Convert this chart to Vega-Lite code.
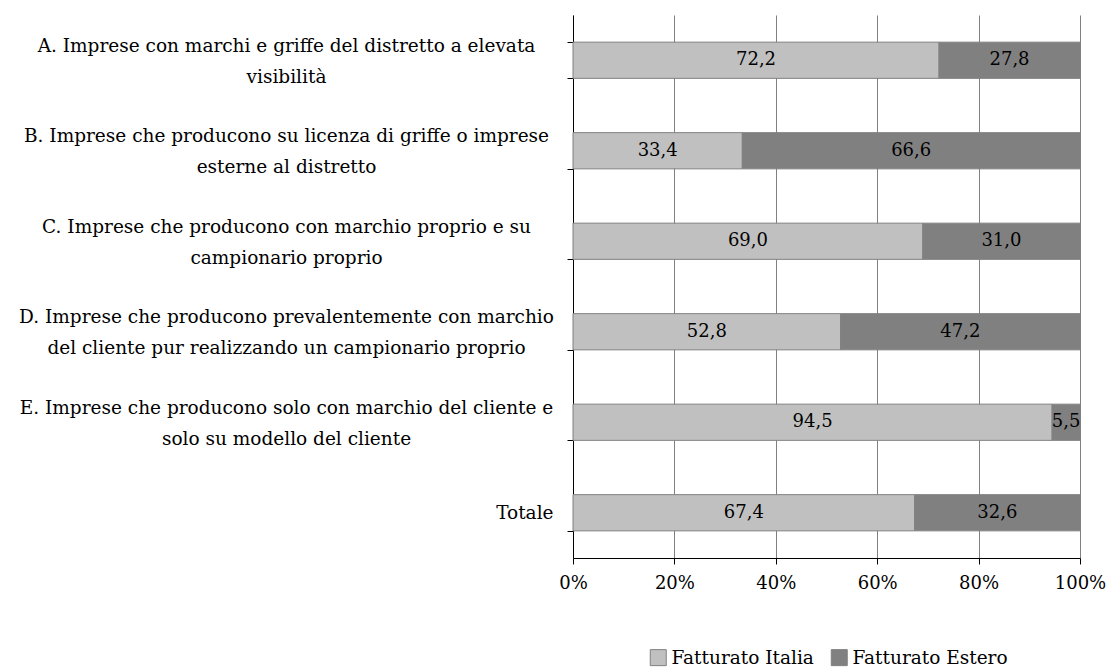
{
  "$schema": "https://vega.github.io/schema/vega-lite/v6.json",
  "autosize": "none",
  "width": 507,
  "height": 543,
  "padding": {"left": 573, "top": 15, "right": 29, "bottom": 111},
  "background": "white",
  "config": {
    "locale": {"number": {"decimal": ",", "thousands": ".", "grouping": [3], "currency": ["€", ""]}},
    "font": "DejaVu Serif",
    "view": {"stroke": null}
  },
  "data": {
    "values": [
      {"categoria": "A. Imprese con marchi e griffe del distretto a elevata\nvisibilità", "voce": "Fatturato Italia", "valore": 72.2},
      {"categoria": "A. Imprese con marchi e griffe del distretto a elevata\nvisibilità", "voce": "Fatturato Estero", "valore": 27.8},
      {"categoria": "B. Imprese che producono su licenza di griffe o imprese\nesterne al distretto", "voce": "Fatturato Italia", "valore": 33.4},
      {"categoria": "B. Imprese che producono su licenza di griffe o imprese\nesterne al distretto", "voce": "Fatturato Estero", "valore": 66.6},
      {"categoria": "C. Imprese che producono con marchio proprio e su\ncampionario proprio", "voce": "Fatturato Italia", "valore": 69.0},
      {"categoria": "C. Imprese che producono con marchio proprio e su\ncampionario proprio", "voce": "Fatturato Estero", "valore": 31.0},
      {"categoria": "D. Imprese che producono prevalentemente con marchio\ndel cliente pur realizzando un campionario proprio", "voce": "Fatturato Italia", "valore": 52.8},
      {"categoria": "D. Imprese che producono prevalentemente con marchio\ndel cliente pur realizzando un campionario proprio", "voce": "Fatturato Estero", "valore": 47.2},
      {"categoria": "E. Imprese che producono solo con marchio del cliente e\nsolo su modello del cliente", "voce": "Fatturato Italia", "valore": 94.5},
      {"categoria": "E. Imprese che producono solo con marchio del cliente e\nsolo su modello del cliente", "voce": "Fatturato Estero", "valore": 5.5},
      {"categoria": "Totale", "voce": "Fatturato Italia", "valore": 67.4},
      {"categoria": "Totale", "voce": "Fatturato Estero", "valore": 32.6}
    ]
  },
  "encoding": {
    "y": {
      "field": "categoria",
      "type": "nominal",
      "sort": null,
      "title": null,
      "scale": {"paddingInner": 0.6, "paddingOuter": 0.3},
      "axis": {
        "tickBand": "extent",
        "labelExpr": "split(datum.label, '\\n')",
        "labelFont": "DejaVu Serif",
        "labelFontSize": 18.5,
        "labelColor": "#000000",
        "labelLimit": 0,
        "labelLineHeight": 31,
        "labelAlign": {"condition": {"test": "datum.value == 'Totale'", "value": "right"}, "value": "center"},
        "labelPadding": {"expr": "datum.value == 'Totale' ? 14 : 281"},
        "labelOffset": {"expr": "datum.value == 'Totale' ? 0 : -15"},
        "tickSize": 6,
        "tickColor": "#000000",
        "domainColor": "#000000",
        "grid": false
      }
    }
  },
  "layer": [
    {
      "mark": {"type": "bar", "stroke": "#808080", "strokeWidth": 1},
      "encoding": {
        "x": {
          "field": "valore",
          "type": "quantitative",
          "stack": "normalize",
          "title": null,
          "scale": {"domain": [0, 1]},
          "axis": {
            "values": [0, 0.2, 0.4, 0.6, 0.8, 1],
            "format": ".0%",
            "grid": true,
            "gridColor": "#808080",
            "gridWidth": 1,
            "domainColor": "#000000",
            "tickColor": "#000000",
            "tickSize": 6,
            "labelFont": "DejaVu Serif",
            "labelFontSize": 18,
            "labelColor": "#000000",
            "labelPadding": 10,
            "labelFlush": false
          }
        },
        "color": {
          "field": "voce",
          "type": "nominal",
          "sort": ["Fatturato Italia", "Fatturato Estero"],
          "scale": {"domain": ["Fatturato Italia", "Fatturato Estero"], "range": ["#C0C0C0", "#808080"]},
          "legend": {
            "orient": "none",
            "legendX": 76,
            "legendY": 633,
            "direction": "horizontal",
            "title": null,
            "padding": 0,
            "symbolType": "square",
            "symbolSize": 256,
            "symbolStrokeColor": "#808080",
            "symbolStrokeWidth": 1,
            "symbolOpacity": 1,
            "labelFont": "DejaVu Serif",
            "labelFontSize": 18.5,
            "labelLimit": 0,
            "labelColor": "#000000",
            "labelOffset": 4,
            "columnPadding": 15
          }
        },
        "order": {"field": "voce", "sort": "descending"}
      }
    },
    {
      "mark": {"type": "text", "font": "DejaVu Serif", "fontSize": 18, "color": "#000000"},
      "encoding": {
        "x": {"field": "valore", "type": "quantitative", "stack": "normalize", "bandPosition": 0.5},
        "text": {"field": "valore", "type": "quantitative", "format": ".1f"},
        "order": {"field": "voce", "sort": "descending"}
      }
    }
  ]
}
